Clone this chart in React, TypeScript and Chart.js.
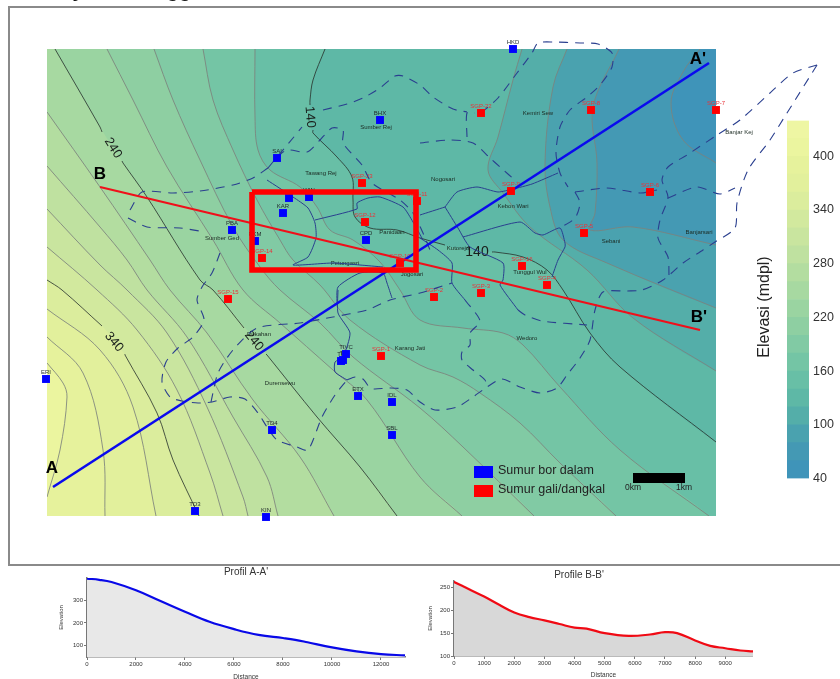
import React, { useEffect, useRef } from "react";
import { Chart, registerables } from "chart.js";

Chart.register(...registerables);

type P = [number, number];
const FONT = '"Liberation Sans", Arial, sans-serif';

// ---- elevation contours (scale units = map sheet units) ----
const MAP_BOUNDS: P[] = [[0, 0], [900, 0], [900, 900], [0, 900]];
const C60: P[] = [[700, 49], [683, 72], [671, 103], [683, 140], [716, 163]];
const C80: P[] = [[619, 49], [593, 107], [597, 163], [595, 213], [590, 230], [633, 227], [716, 245]];
const C100: P[] = [[567, 49], [553, 87], [545, 163], [550, 207], [563, 240], [607, 263], [716, 308]];
const C120: P[] = [[522, 49], [513, 80], [498, 137], [488, 170], [503, 193], [530, 227], [587, 270], [633, 318], [716, 371]];
const C140: P[] = [[325, 49], [313, 80], [310, 100], [310, 117], [313, 133], [337, 157], [352, 177], [353, 200], [355, 217], [370, 228], [397, 230], [420, 238], [463, 250], [495, 252], [523, 257], [547, 270], [563, 290], [590, 333], [620, 367], [716, 442]];
const C160: P[] = [[255, 49], [255, 117], [258, 150], [270, 170], [300, 187], [317, 207], [330, 230], [353, 240], [380, 262], [400, 290], [420, 320], [463, 328], [503, 333], [523, 345], [560, 387], [620, 450], [709, 516]];
const C180: P[] = [[203, 49], [213, 100], [233, 150], [257, 200], [280, 240], [293, 260], [320, 285], [350, 320], [420, 365], [453, 377], [480, 393], [520, 423], [560, 463], [616, 516]];
const C200: P[] = [[154, 49], [173, 100], [200, 160], [233, 227], [260, 267], [280, 290], [320, 323], [353, 357], [420, 408], [463, 447], [534, 516]];
const C220: P[] = [[107, 49], [133, 100], [167, 167], [213, 240], [243, 290], [280, 323], [333, 370], [367, 400], [420, 477], [462, 516]];
const C240: P[] = [[55, 49], [100, 127], [123, 163], [147, 197], [200, 280], [213, 290], [247, 330], [267, 355], [317, 417], [360, 467], [397, 516]];
const C260: P[] = [[47, 112], [100, 187], [150, 260], [170, 290], [207, 333], [253, 400], [300, 457], [334, 516]];
const C280: P[] = [[47, 166], [100, 227], [127, 260], [147, 290], [187, 337], [233, 417], [267, 477], [278, 516]];
const C300: P[] = [[47, 209], [100, 265], [127, 290], [167, 333], [207, 407], [243, 497], [248, 516]];
const C320: P[] = [[47, 247], [97, 290], [137, 330], [177, 390], [210, 473], [223, 516]];
const C340: P[] = [[47, 280], [62, 290], [103, 327], [125, 355], [157, 413], [173, 460], [199, 516]];
const C360: P[] = [[47, 309], [100, 350], [133, 407], [156, 516]];
const C380: P[] = [[47, 337], [83, 373], [103, 450], [105, 516]];
const C400: P[] = [[47, 363], [63, 383], [67, 397], [60, 450], [47, 497]];

const BAND_LEVELS = [40, 60, 80, 100, 120, 140, 160, 180, 200, 220, 240, 260, 280, 300, 320, 340, 360, 380, 400, 420];
const BAND_COLORS = ["#3f94b9", "#4499b4", "#4aa2af", "#54aea9", "#5eb8a6", "#68bfa6", "#74c5a5", "#81caa4", "#8ecfa2", "#9ad4a1", "#a7d9a1", "#b3dda0", "#bfe1a0", "#c9e59f", "#d2e99e", "#dbed9d", "#e2f09c", "#e6f29c", "#ebf59f", "#eef6a3"];
const CONTOUR_LINES: [number, P[]][] = [[60, C60], [80, C80], [100, C100], [120, C120], [140, C140], [160, C160], [180, C180], [200, C200], [220, C220], [240, C240], [260, C260], [280, C280], [300, C300], [320, C320], [340, C340], [360, C360], [380, C380], [400, C400]];
const MAJOR_LEVELS = [140, 240, 340];
const CONTOUR_GAPS: [number, P, P][] = [
  [140, [310, 105], [313, 130]],
  [140, [445, 245], [492, 252]],
  [240, [102, 132], [122, 161]],
  [240, [244, 328], [266, 354]],
  [340, [102, 326], [125, 354]],
];

// ---- administrative boundaries ----
const DASHED: P[][] = [
  [[268, 168], [277, 157], [293, 138], [302, 127]],
  [[323, 110], [347, 104], [363, 98], [380, 88], [395, 76], [403, 76], [420, 85], [433, 97], [453, 109], [467, 112]],
  [[481, 113], [498, 98], [517, 73], [532, 53], [538, 43], [553, 42], [580, 43], [598, 44], [612, 53], [612, 67], [600, 85], [587, 97], [570, 110], [560, 127], [556, 153], [560, 173], [568, 187]],
  [[277, 157], [287, 150], [307, 152], [320, 140], [332, 128], [343, 130], [343, 143], [362, 165], [372, 183], [400, 200], [413, 213], [423, 233], [430, 250]],
  [[130, 210], [142, 192], [173, 193], [200, 191], [233, 185], [253, 178], [268, 168]],
  [[128, 218], [147, 227], [180, 228], [205, 232]],
  [[220, 253], [212, 273], [202, 287], [197, 300], [204, 320], [193, 337], [178, 348], [166, 362], [162, 382], [170, 397], [182, 401], [198, 403], [212, 402], [230, 397], [245, 399], [258, 413], [267, 427], [277, 440], [297, 447], [308, 450], [322, 417], [335, 395], [347, 380]],
  [[211, 402], [218, 373], [233, 350], [257, 328], [300, 323], [333, 317], [367, 310], [390, 300], [420, 293], [452, 283]],
  [[347, 380], [355, 377], [363, 379], [370, 388], [375, 389], [390, 388], [407, 390], [420, 402], [435, 410], [457, 407], [473, 397], [487, 387], [502, 379], [520, 387], [540, 393], [557, 388], [567, 375], [580, 358], [590, 340], [595, 310], [603, 292], [627, 291], [642, 290], [663, 280], [683, 263], [703, 250], [715, 242], [735, 228], [737, 203], [748, 170], [770, 140], [787, 113], [817, 65]],
  [[817, 65], [793, 73], [770, 93], [740, 120], [717, 135], [687, 155], [668, 167], [662, 180], [668, 197], [660, 220], [658, 238], [668, 257], [669, 275]],
  [[575, 192], [607, 188], [640, 193], [657, 190]],
  [[668, 198], [697, 187], [720, 194], [735, 188]],
  [[575, 192], [580, 203], [575, 218], [560, 228]],
  [[420, 143], [450, 140], [473, 143], [490, 158], [500, 167], [517, 182]],
  [[467, 137], [467, 113], [475, 113]],
  [[518, 310], [525, 315], [542, 321], [587, 325]],
  [[465, 300], [480, 321], [470, 333], [470, 345], [462, 352], [462, 360], [473, 370], [485, 380], [487, 387]],
];
const SOLID: P[][] = [
  [[267, 180], [293, 197], [308, 208], [315, 223], [316, 238], [308, 257], [293, 265], [333, 263], [360, 265], [383, 267]],
  [[315, 220], [357, 209], [357, 203], [368, 198], [380, 197], [403, 207], [413, 222], [423, 240]],
  [[337, 305], [338, 287], [360, 273], [383, 273], [387, 283], [392, 298]],
  [[338, 290], [338, 313], [350, 333], [343, 357], [335, 362], [335, 372], [347, 380]],
  [[445, 207], [457, 192], [477, 187], [498, 192], [513, 189], [532, 184], [558, 173]],
  [[445, 207], [420, 215]],
  [[445, 207], [458, 228], [470, 247], [503, 263], [503, 280], [500, 285], [518, 310]],
  [[463, 237], [520, 222], [535, 233], [543, 235], [560, 228], [565, 243], [565, 247], [558, 260], [552, 277]],
  [[420, 238], [438, 250], [452, 263], [452, 283], [465, 300]],
];

// ---- section lines, box, legend keys ----
const SECTION_A: P[] = [[53, 487], [709, 63]];
const SECTION_B: P[] = [[100, 187], [700, 330]];
const FOCUS_BOX: P[] = [[252, 192], [416, 192], [416, 270], [252, 270], [252, 192]];
const FRAME: P[] = [[860, 7], [9, 7], [9, 565], [860, 565]];
const KEY_BLUE: P[] = [[474, 472], [493, 472]];
const KEY_RED: P[] = [[474, 491], [493, 491]];
const SCALE_BAR: P[] = [[633, 478], [685, 478]];

// ---- wells ----
const BLUE_NAMES = ["HKD", "BHX", "SAI", "", "WIN", "KAR", "PBA", "PKM", "CPD", "ERI", "TD3", "KIN", "TD4", "ETX", "IDL", "SBL", "TIVC", "TJ", "TK"];
const BLUE_X = [513, 380, 277, 289, 309, 283, 232, 255, 366, 46, 195, 266, 272, 358, 392, 392, 346, 343, 341];
const BLUE_Y = [49, 120, 158, 198, 197, 213, 230, 241, 240, 379, 511, 517, 430, 396, 402, 435, 354, 360, 361];
const RED_NAMES = ["SGP-22", "SGP-8", "SGP-7", "SGP-23", "SGP-9", "SGP-6", "SGP-11", "SGP-12", "SGP-14", "SGP-5", "SGP-16", "SGP-4", "SGP-3", "SGP-2", "SGP-10", "SGP-15", "SGP-1"];
const RED_X = [481, 591, 716, 362, 511, 650, 417, 365, 262, 584, 522, 547, 481, 434, 400, 228, 381];
const RED_Y = [113, 110, 110, 183, 191, 192, 201, 222, 258, 233, 266, 285, 293, 297, 263, 299, 356];

// ---- text: [label, x, y, size, rotation, weight] ----
type T = [string, number, number, number, number?, string?];
const PLACES: T[] = [
  ["Sumber Rej", 376, 127, 6], ["Tawang Rej", 321, 173, 6], ["Nogosari", 443, 179, 6], ["Kemiri Sew", 538, 113, 6],
  ["Banjar Kej", 739, 132, 6], ["Kebon Wari", 513, 206, 6], ["Sumber Ged", 222, 238, 6], ["Panidaan", 392, 232, 6],
  ["Petungasri", 345, 263, 6], ["Kutorejo", 458, 248, 6], ["Jogosari", 412, 274, 6], ["Sebani", 611, 241, 6],
  ["Banjarsari", 699, 232, 6], ["Tunggul Wul", 530, 272, 6], ["Wedoro", 527, 338, 6], ["Karang Jati", 410, 348, 6],
  ["Rukahan", 259, 334, 6], ["Durensewu", 280, 383, 6],
];
const CONTOUR_LABELS: T[] = [
  ["140", 310, 117, 13, 85], ["240", 113, 148, 13, 58], ["340", 114, 342, 13, 50], ["240", 254, 341, 13, 50], ["140", 477, 252, 14, 0],
];
const SECTION_LABELS: T[] = [
  ["A", 52, 468, 17, 0, "bold"], ["A'", 698, 59, 17, 0, "bold"], ["B", 100, 174, 17, 0, "bold"], ["B'", 699, 317, 17, 0, "bold"],
];
const LEGEND_TEXT = ["Sumur bor dalam", "Sumur gali/dangkal"];
const SCALE_TEXT = ["0km", "1km"];
const CLIPPED_HEADING = ["y", "gg"];
const COLORBAR_TITLE = "Elevasi (mdpl)";

// ---- colorbar ----
const COLORBAR_TICKS = [40, 100, 160, 220, 280, 340, 400];

// ---- profiles ----
const PROFILE_A_DIST = [0, 500, 1000, 2000, 3000, 4000, 5000, 6000, 7000, 8000, 8500, 9000, 10000, 11000, 12000, 13000];
const PROFILE_A_ELEV = [398, 393, 383, 346, 298, 250, 205, 172, 146, 132, 124, 113, 90, 72, 60, 54];
const PROFILE_A_XTICKS = [0, 2000, 4000, 6000, 8000, 10000, 12000];
const PROFILE_A_YTICKS = [100, 200, 300];
const PROFILE_B_DIST = [0, 500, 1000, 1500, 2000, 2500, 3000, 3500, 4000, 4400, 5000, 5800, 6500, 7000, 7400, 8000, 8500, 9000, 9500, 9920];
const PROFILE_B_ELEV = [262, 246, 230, 212, 195, 185, 178, 170, 162, 160, 150, 144, 147, 152, 150, 134, 122, 117, 112, 110];
const PROFILE_B_XTICKS = [0, 1000, 2000, 3000, 4000, 5000, 6000, 7000, 8000, 9000];
const PROFILE_B_YTICKS = [100, 150, 200, 250];

const xy = (pts: P[]) => pts.map(([x, y]) => ({ x, y }));

function closeHighSide(pts: P[]): P[] {
  const first = pts[0];
  const last = pts[pts.length - 1];
  const out: P[] = [...pts];
  if (last[0] >= 716) out.push([730, last[1]], [1000, last[1]], [1000, 1000]);
  else if (last[1] >= 516) out.push([last[0], 530], [last[0], 1000]);
  else out.push([30, last[1]], [-300, last[1]]);
  if (last[0] > 47) out.push([-300, 1000]);
  if (first[1] <= 49) out.push([-300, -300], [first[0], -300], [first[0], 35]);
  else out.push([-300, first[1]], [30, first[1]]);
  return out;
}

function withGaps(level: number, pts: P[]) {
  const gaps = CONTOUR_GAPS.filter((g) => g[0] === level);
  if (!gaps.length) return xy(pts);
  const res: { x: number; y: number | null }[] = [];
  pts.forEach(([x, y]) => {
    const inside = gaps.find((g) => x >= g[1][0] - 0.1 && x <= g[2][0] + 0.1 && y >= g[1][1] - 0.1 && y <= g[2][1] + 0.1);
    if (!inside) res.push({ x, y });
  });
  const out: { x: number; y: number | null }[] = [];
  res.forEach((p, i) => {
    out.push(p);
    const next = res[i + 1];
    if (next) {
      const g = gaps.find((q) => p.x <= q[1][0] && p.y <= q[1][1] && next.x >= q[2][0] && next.y >= q[2][1]);
      if (g) out.push({ x: g[1][0], y: g[1][1] }, { x: NaN, y: null }, { x: g[2][0], y: g[2][1] });
    }
  });
  return out;
}

function textPlugin(items: any[], color: (i: number) => string) {
  return {
    id: "sheetText",
    beforeDatasetsDraw(chart: any) {
      const { ctx, scales } = chart;
      items.forEach((t, i) => {
        const [label, x, y, size, rot = 0, weight = "normal"] = t;
        ctx.save();
        ctx.translate(scales.x.getPixelForValue(x), scales.y.getPixelForValue(y));
        ctx.rotate((rot * Math.PI) / 180);
        ctx.font = `${weight} ${size}px ${FONT}`;
        ctx.fillStyle = color(i);
        ctx.textAlign = t[6] || "center";
        ctx.textBaseline = "middle";
        ctx.fillText(label, 0, 0);
        ctx.restore();
      });
    },
  };
}

const hiddenScale = (min: number, max: number, reverse = false) => ({ type: "linear", display: false, min, max, reverse });

function stroke(points: any[], color: string, width: number, extra: any = {}) {
  return { type: "scatter", data: points, showLine: true, borderColor: color, borderWidth: width, pointRadius: 0, tension: 0, fill: false, borderCapStyle: "butt", ...extra };
}

function makeMap(canvas: HTMLCanvasElement) {
  const fills = [MAP_BOUNDS, ...CONTOUR_LINES.map((c) => closeHighSide(c[1]))].map((pts, i) => ({
    type: "scatter",
    data: xy(pts),
    showLine: true,
    fill: "shape",
    backgroundColor: BAND_COLORS[i],
    borderWidth: 0,
    borderColor: "transparent",
    pointRadius: 0,
    tension: i === 0 ? 0 : 0.35,
  }));
  const lines = CONTOUR_LINES.map(([lvl, pts]) =>
    stroke(withGaps(lvl, pts), MAJOR_LEVELS.includes(lvl) ? "rgba(40,50,45,0.9)" : "rgba(125,130,125,0.85)", MAJOR_LEVELS.includes(lvl) ? 0.9 : 1, { tension: 0.35, spanGaps: false })
  );
  return new Chart(canvas, {
    type: "scatter",
    data: { datasets: [...fills, ...lines].reverse() as any },
    options: {
      responsive: false,
      animation: false,
      events: [],
      layout: { padding: 0, autoPadding: false },
      scales: { x: hiddenScale(47, 716), y: hiddenScale(49, 516, true) } as any,
      plugins: { legend: { display: false }, title: { display: false }, tooltip: { enabled: false } },
    },
  });
}

function makeOverlay(canvas: HTMLCanvasElement) {
  const boundaryColor = "#2a3f8f";
  const layers: any[] = [
    stroke(xy(FRAME), "#8a8a8a", 2),
    ...SOLID.map((l) => stroke(xy(l), boundaryColor, 1, { tension: 0.2 })),
    ...DASHED.map((l) => stroke(xy(l), boundaryColor, 1.1, { tension: 0.25, borderDash: [9, 7] })),
    { type: "scatter", data: BLUE_X.map((x, i) => ({ x, y: BLUE_Y[i] })), pointStyle: "rect", pointRadius: 5.6, pointBackgroundColor: "#0000ff", pointBorderWidth: 0, showLine: false },
    stroke(xy(SECTION_A), "#0a0aee", 2.6),
    { type: "scatter", data: RED_X.map((x, i) => ({ x, y: RED_Y[i] })), pointStyle: "rect", pointRadius: 5.6, pointBackgroundColor: "#ff0000", pointBorderWidth: 0, showLine: false },
    stroke(xy(SECTION_B), "#f00f1a", 2.2),
    stroke(xy(FOCUS_BOX), "#ff0000", 5.6, { borderJoinStyle: "miter" }),
    stroke(xy(KEY_BLUE), "#0000ff", 12),
    stroke(xy(KEY_RED), "#ff0000", 12),
    stroke(xy(SCALE_BAR), "#000000", 10),
  ];
  const items: any[] = [
    ...PLACES.map((t) => ({ t, c: "#1b2a22" })),
    ...BLUE_NAMES.map((n, i) => ({ t: [n, BLUE_X[i], BLUE_Y[i] - 7, 6] as T, c: "#1f2a2a" })),
    ...RED_NAMES.map((n, i) => ({ t: [n, RED_X[i], RED_Y[i] - 7, 6] as T, c: "#e8343a" })),
    ...CONTOUR_LABELS.map((t) => ({ t, c: "#1a1f1c" })),
    ...SECTION_LABELS.map((t) => ({ t, c: "#000" })),
    { t: [LEGEND_TEXT[0], 498, 471, 12.5, 0, "normal", "left"], c: "#222" },
    { t: [LEGEND_TEXT[1], 498, 490, 12.5, 0, "normal", "left"], c: "#222" },
    { t: [SCALE_TEXT[0], 633, 488, 8.5], c: "#222" },
    { t: [SCALE_TEXT[1], 684, 488, 8.5], c: "#222" },
    { t: [CLIPPED_HEADING[0], 78, -8.5, 20, 0, "bold"], c: "#111" },
    { t: [CLIPPED_HEADING[1], 179, -8.5, 20, 0, "bold"], c: "#111" },
    { t: [COLORBAR_TITLE, 765, 307, 16, -90], c: "#222" },
  ];
  return new Chart(canvas, {
    type: "scatter",
    data: { datasets: layers.reverse() },
    options: {
      responsive: false,
      animation: false,
      events: [],
      layout: { padding: 0, autoPadding: false },
      scales: { x: hiddenScale(0, 840), y: hiddenScale(0, 679, true) } as any,
      plugins: { legend: { display: false }, title: { display: false }, tooltip: { enabled: false } },
    },
    plugins: [textPlugin(items.map((i) => i.t), (i) => items[i].c) as any],
  });
}

function makeColorbar(canvas: HTMLCanvasElement) {
  return new Chart(canvas, {
    type: "bar",
    data: {
      labels: ["elev"],
      datasets: BAND_LEVELS.map((lo, i) => ({
        data: [[lo, lo + 20]] as any,
        backgroundColor: BAND_COLORS[i],
        grouped: false,
        barPercentage: 1,
        categoryPercentage: 1,
      })),
    },
    options: {
      responsive: false,
      animation: false,
      events: [],
      layout: { padding: { left: 0, top: 10, bottom: 10, right: 0 }, autoPadding: false },
      scales: {
        x: { display: false },
        y: {
          position: "right",
          min: 40,
          max: 440,
          grid: { display: false, drawTicks: false },
          border: { display: false },
          afterBuildTicks: (s: any) => { s.ticks = COLORBAR_TICKS.map((value) => ({ value })); },
          afterFit: (s: any) => { s.width = 31; },
          ticks: { font: { family: FONT, size: 12.5 }, color: "#333", padding: 4 },
        },
      } as any,
      plugins: { legend: { display: false }, title: { display: false }, tooltip: { enabled: false } },
    },
  });
}

function makeProfile(canvas: HTMLCanvasElement, o: any) {
  return new Chart(canvas, {
    type: "scatter",
    data: {
      datasets: [{
        data: o.dist.map((x: number, i: number) => ({ x, y: o.elev[i] })),
        showLine: true,
        borderColor: o.color,
        borderWidth: 2.2,
        pointRadius: 0,
        tension: 0.4,
        fill: "start",
        backgroundColor: o.fill,
        borderCapStyle: "round",
      }],
    },
    options: {
      responsive: false,
      animation: false,
      events: [],
      layout: { padding: { left: o.padLeft, right: o.padRight, top: o.padTop }, autoPadding: false },
      scales: {
        x: {
          type: "linear", min: 0, max: o.xMax,
          grid: { drawOnChartArea: false, drawTicks: true, tickLength: 3, color: "#777" },
          border: { color: "#777", width: 1.5 },
          afterBuildTicks: (s: any) => { s.ticks = o.xTicks.map((value: number) => ({ value })); },
          afterFit: (s: any) => { s.height = o.xHeight; },
          ticks: { font: { family: FONT, size: 6 }, color: "#333", padding: 1, maxRotation: 0, autoSkip: false, callback: (v: any) => String(v) },
          title: { display: true, text: "Distance", font: { family: FONT, size: 6.5 }, color: "#333", padding: { top: 1, bottom: 0 } },
        },
        y: {
          type: "linear", min: o.yMin, max: o.yMax,
          grid: { drawOnChartArea: false, drawTicks: true, tickLength: 3, color: "#777" },
          border: { color: "#777", width: 1.5 },
          afterBuildTicks: (s: any) => { s.ticks = o.yTicks.map((value: number) => ({ value })); },
          afterFit: (s: any) => { s.width = o.yWidth; },
          ticks: { font: { family: FONT, size: 6 }, color: "#333", padding: 1, callback: (v: any) => String(v) },
          title: { display: true, text: "Elevation", font: { family: FONT, size: 6 }, color: "#333", padding: { top: o.yTitlePad, bottom: 2 } },
        },
      } as any,
      plugins: {
        legend: { display: false },
        tooltip: { enabled: false },
        title: { display: true, text: o.title, fullSize: o.titleFull, font: { family: FONT, size: 10, weight: "normal", lineHeight: 1.2 }, color: "#333", padding: { top: 0, bottom: 0 }, align: "center" },
      },
    },
  });
}

const box = (left: number, top: number): React.CSSProperties => ({ position: "absolute", left, top });

export default function App() {
  const mapRef = useRef<HTMLCanvasElement>(null);
  const overlayRef = useRef<HTMLCanvasElement>(null);
  const barRef = useRef<HTMLCanvasElement>(null);
  const profARef = useRef<HTMLCanvasElement>(null);
  const profBRef = useRef<HTMLCanvasElement>(null);

  useEffect(() => {
    const charts = [
      makeMap(mapRef.current!),
      makeColorbar(barRef.current!),
      makeOverlay(overlayRef.current!),
      makeProfile(profARef.current!, {
        dist: PROFILE_A_DIST, elev: PROFILE_A_ELEV, xTicks: PROFILE_A_XTICKS, yTicks: PROFILE_A_YTICKS,
        color: "#0808e8", fill: "#e8e8e8", title: "Profil A-A'", xMax: 12980, yMin: 47, yMax: 401,
        padLeft: 8, padRight: 35, padTop: 0, xHeight: 24, yWidth: 29, yTitlePad: 0, titleFull: false,
      }),
      makeProfile(profBRef.current!, {
        dist: PROFILE_B_DIST, elev: PROFILE_B_ELEV, xTicks: PROFILE_B_XTICKS, yTicks: PROFILE_B_YTICKS,
        color: "#f00a14", fill: "#d8d8d8", title: "Profile B-B'", xMax: 9920, yMin: 100, yMax: 264,
        padLeft: 0, padRight: 0, padTop: 3, xHeight: 23, yWidth: 49, yTitlePad: 22, titleFull: true,
      }),
    ];
    return () => charts.forEach((c) => c.destroy());
  }, []);

  return (
    <div style={{ position: "absolute", left: 0, top: 0, width: 840, height: 679, overflow: "hidden", background: "#fff" }}>
      <canvas ref={mapRef} width={669} height={467} style={box(47, 49)} />
      <canvas ref={barRef} width={53} height={381} style={box(787, 109)} />
      <canvas ref={overlayRef} width={840} height={679} style={box(0, 0)} />
      <canvas ref={profARef} width={390} height={115} style={box(50, 566)} />
      <canvas ref={profBRef} width={348} height={113} style={box(405, 566)} />
    </div>
  );
}
